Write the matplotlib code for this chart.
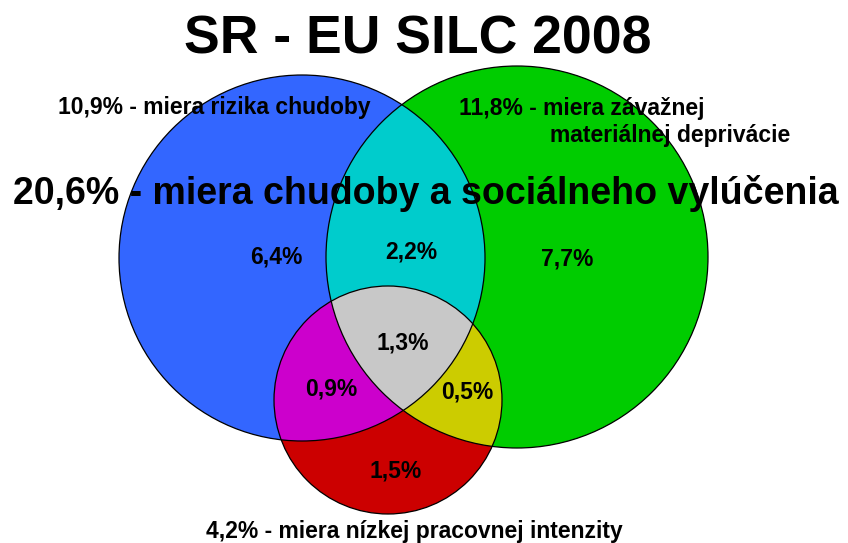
import numpy as np
import matplotlib
matplotlib.use("Agg")
import matplotlib.pyplot as plt
from matplotlib.patches import Circle, PathPatch
from matplotlib.path import Path

plt.rcParams['font.family'] = ['Liberation Sans', 'DejaVu Sans']

# ---- data ----
title = "SR - EU SILC 2008"
total_label = "20,6% - miera chudoby a sociálneho vylúčenia"
set_labels = ["10,9% - miera rizika chudoby",
              "11,8% - miera závažnej\nmateriálnej deprivácie",
              "4,2% - miera nízkej pracovnej intenzity"]
region_names = ["A", "AB", "B", "ABC", "AC", "BC", "C"]
region_values = [6.4, 2.2, 7.7, 1.3, 0.9, 0.5, 1.5]

# ---- layout (pixel coordinates, y down) ----
W, H = 848, 543
circ_centers = [(302, 258), (517, 257), (388, 400)]
circ_radii = [183, 191, 114]
circ_colors = ["#3366FF", "#00CC00", "#CC0000"]
region_pos = [(276, 257), (411, 252), (567, 259), (403, 343),
              (331, 389), (467, 392), (396, 471)]

fig = plt.figure(figsize=(W / 100, H / 100), dpi=100)
ax = fig.add_axes([0, 0, 1, 1])
ax.set_xlim(0, W)
ax.set_ylim(H, 0)
ax.set_aspect('equal')
ax.axis('off')

def circ(i, **kw):
    return Circle(circ_centers[i], circ_radii[i], **kw)

# base circles
for i in range(3):
    ax.add_patch(circ(i, facecolor=circ_colors[i], edgecolor='none', zorder=1))

# pairwise intersections
pairs = [(1, 0, "#00CCCC"), (2, 0, "#CC00CC"), (2, 1, "#CCCC00")]
for a, b, col in pairs:
    clip = circ(b, transform=ax.transData)
    p = circ(a, facecolor=col, edgecolor='none', zorder=2)
    ax.add_patch(p)
    p.set_clip_path(clip)

# triple intersection: lens of A and B clipped by C
def lens_path(i, j, n=600):
    ci, cj = np.array(circ_centers[i], float), np.array(circ_centers[j], float)
    ri, rj = circ_radii[i], circ_radii[j]
    t = np.linspace(0, 2 * np.pi, n, endpoint=False)
    pi = ci + ri * np.c_[np.cos(t), np.sin(t)]
    pj = cj + rj * np.c_[np.cos(t), np.sin(t)]
    pts = np.vstack([pi[np.hypot(*(pi - cj).T) <= rj],
                     pj[np.hypot(*(pj - ci).T) <= ri]])
    c = pts.mean(axis=0)
    order = np.argsort(np.arctan2(pts[:, 1] - c[1], pts[:, 0] - c[0]))
    pts = pts[order]
    pts = np.vstack([pts, pts[:1]])
    return Path(pts, closed=True)

gray = PathPatch(lens_path(0, 1), facecolor="#C8C8C8", edgecolor='none', zorder=3)
ax.add_patch(gray)
gray.set_clip_path(circ(2, transform=ax.transData))

# outlines
for i in range(3):
    ax.add_patch(circ(i, facecolor='none', edgecolor='#000000', lw=0.9, zorder=4))

# texts
ax.text(418, 54, title, fontsize=38.5, fontweight='bold', ha='center',
        va='baseline', zorder=5)
ax.text(13, 204, total_label, fontsize=27, fontweight='bold', ha='left',
        va='baseline', zorder=5)
ax.text(58, 114, set_labels[0], fontsize=16.5, fontweight='bold', ha='left',
        va='baseline', zorder=5)
l1, l2 = set_labels[1].split("\n")
ax.text(459, 115, l1, fontsize=16.5, fontweight='bold', ha='left',
        va='baseline', zorder=5)
ax.text(550, 142, l2, fontsize=16.5, fontweight='bold', ha='left',
        va='baseline', zorder=5)
ax.text(414, 538, set_labels[2], fontsize=16.5, fontweight='bold', ha='center',
        va='baseline', zorder=5)

for v, (x, y) in zip(region_values, region_pos):
    ax.text(x, y, f"{v:.1f}%".replace('.', ','), fontsize=16.5,
            fontweight='bold', ha='center', va='center', zorder=5)

fig.savefig("out.png", dpi=100, facecolor='white')
